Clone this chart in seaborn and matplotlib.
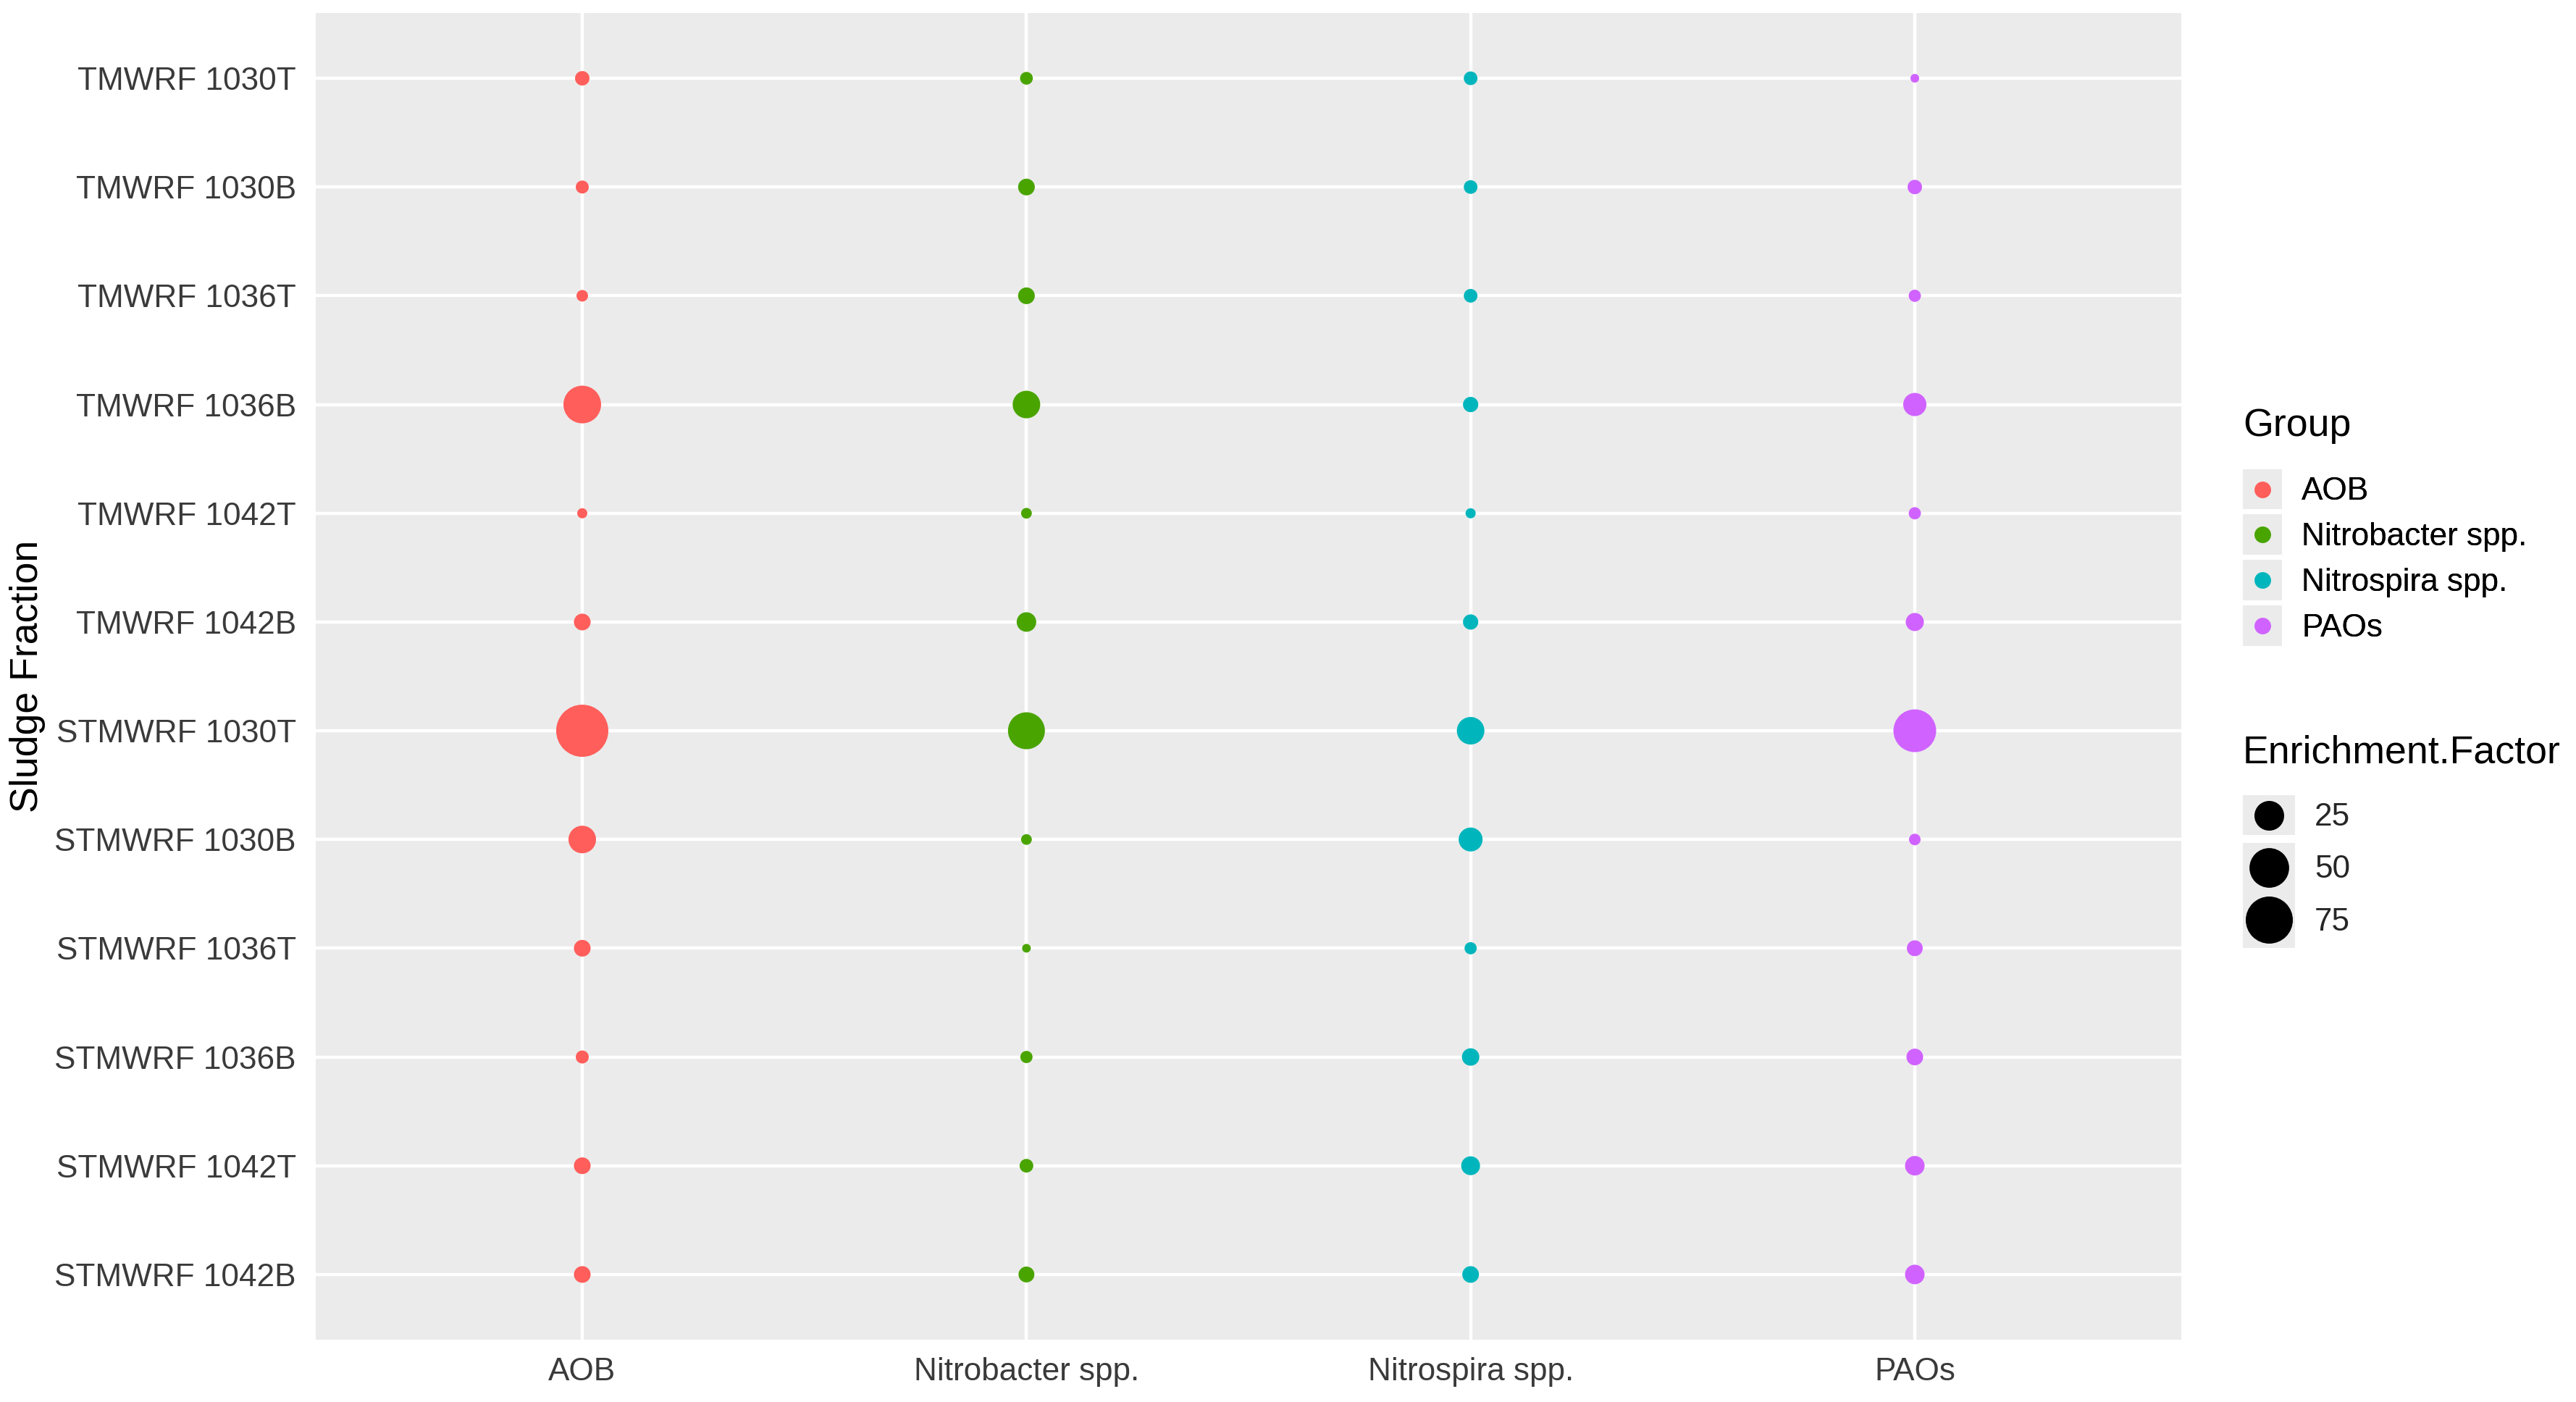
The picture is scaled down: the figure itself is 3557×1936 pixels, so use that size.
import numpy as np
import pandas as pd
import matplotlib
matplotlib.use("Agg")
import matplotlib.pyplot as plt
from matplotlib.colors import FuncNorm
from matplotlib.legend_handler import HandlerBase
from matplotlib.lines import Line2D
from matplotlib.patches import Rectangle
import seaborn as sns

# data
fractions = ["TMWRF 1030T", "TMWRF 1030B", "TMWRF 1036T", "TMWRF 1036B",
             "TMWRF 1042T", "TMWRF 1042B", "STMWRF 1030T", "STMWRF 1030B",
             "STMWRF 1036T", "STMWRF 1036B", "STMWRF 1042T", "STMWRF 1042B"]
groups = ["AOB", "Nitrobacter spp.", "Nitrospira spp.", "PAOs"]
aob = [5.2, 4.5, 4.0, 44.2, 3.7, 6.7, 95.0, 20.8, 6.7, 4.5, 6.7, 6.7]
nitrobacter = [4.4, 6.7, 6.7, 20.8, 3.8, 9.3, 42.2, 3.8, 3.6, 4.2, 4.8, 6.1]
nitrospira = [4.8, 4.8, 4.8, 5.7, 3.7, 5.7, 20.8, 14.8, 4.2, 7.3, 8.6, 6.7]
paos = [3.6, 5.2, 4.2, 13.8, 4.2, 7.9, 59.7, 4.0, 6.1, 6.7, 9.3, 9.3]
size_breaks = [25, 50, 75]
group_colors = ["#FF5E5B", "#49A400", "#00B6BC", "#D063FF"]

df = pd.DataFrame({
    "Sludge Fraction": fractions * len(groups),
    "Group": np.repeat(groups, len(fractions)),
    "Enrichment.Factor": aob + nitrobacter + nitrospira + paos,
})

# ggplot-like area scale: diameter 1..6 mm, sqrt of rescaled value
V_MIN = df["Enrichment.Factor"].min()
V_MAX = df["Enrichment.Factor"].max()
D_MIN, D_MAX = 2.88, 17.28  # points


def area(v):
    r = np.clip((np.asarray(v, dtype=float) - V_MIN) / (V_MAX - V_MIN), 0, 1)
    return (D_MIN + (D_MAX - D_MIN) * np.sqrt(r)) ** 2


def area_inv(a):
    d = np.sqrt(np.clip(np.asarray(a, dtype=float), 0, None))
    return V_MIN + (V_MAX - V_MIN) * ((d - D_MIN) / (D_MAX - D_MIN)) ** 2


size_norm = FuncNorm((area, area_inv), vmin=V_MIN, vmax=V_MAX)

sns.set_style("darkgrid", {"axes.facecolor": "#EBEBEB", "grid.color": "white"})
plt.rcParams["font.family"] = ["Liberation Sans", "DejaVu Sans"]

W, H, DPI = 3557, 1936, 300
fig = plt.figure(figsize=(W / DPI, H / DPI), dpi=DPI)
ax = fig.add_axes([436 / W, 1 - 1850 / H, (3012 - 436) / W, (1850 - 18) / H])

sns.scatterplot(data=df, x="Group", y="Sludge Fraction", hue="Group",
                palette=dict(zip(groups, group_colors)),
                size="Enrichment.Factor", sizes=(D_MIN ** 2, D_MAX ** 2),
                size_norm=size_norm, linewidth=0, alpha=1, legend=False, ax=ax)

ax.set_xlim(-0.6, len(groups) - 0.4)
ax.set_ylim(len(fractions) - 0.4, -0.6)
ax.grid(True, color="white", linewidth=1.06)
for s in ax.spines.values():
    s.set_visible(False)
ax.set_xlabel("")
ax.set_ylabel("")
ax.tick_params(axis="both", length=3.4, width=1.06, color="#333333",
               labelcolor="#3a3a3a", labelsize=10.6)
ax.tick_params(axis="x", pad=2.4)
ax.tick_params(axis="y", pad=3.1)

fig.text(38 / W, 1 - 934 / H, "Sludge Fraction", rotation=90,
         ha="center", va="center", fontsize=12.9, color="black")


class KeyHandler(HandlerBase):
    def __init__(self, min_h):
        super().__init__()
        self.min_h = min_h

    def create_artists(self, legend, orig_handle, xdescent, ydescent,
                       width, height, fontsize, trans):
        ms = orig_handle.get_markersize()
        h = max(self.min_h, ms + 3)
        cx = -xdescent + width / 2
        cy = -ydescent + height / 2
        rect = Rectangle((cx - width / 2, cy - h / 2), width, h,
                         facecolor="#EBEBEB", edgecolor="none", transform=trans)
        dot = Line2D([cx], [cy], marker="o", markersize=ms, linestyle="none",
                     markerfacecolor=orig_handle.get_markerfacecolor(),
                     markeredgewidth=0, transform=trans)
        return [rect, dot]


fs = 10.6
# Group legend
fig.text(3097 / W, 1 - 588 / H, "Group", ha="left", va="center",
         fontsize=12.9, color="black")
group_handles = [Line2D([], [], marker="o", markersize=5.5, linestyle="none",
                        markerfacecolor=c) for c in group_colors]
leg1 = fig.legend(group_handles, groups, loc="upper left",
                  bbox_to_anchor=(3097 / W, 1 - 652 / H), frameon=False,
                  fontsize=fs, handlelength=13.0 / fs, handleheight=13.4 / fs,
                  labelspacing=3.7 / fs, handletextpad=6.5 / fs,
                  borderpad=0, borderaxespad=0,
                  handler_map={Line2D: KeyHandler(13.4)})
for t in leg1.get_texts():
    t.set_color("black")

# size legend
fig.text(3097 / W, 1 - 1039 / H, "Enrichment.Factor", ha="left", va="center",
         fontsize=12.9, color="black")
size_handles = [Line2D([], [], marker="o", markersize=float(np.sqrt(area(b))),
                       linestyle="none", markerfacecolor="black")
                for b in size_breaks]
leg2 = fig.legend(size_handles, [str(b) for b in size_breaks], loc="upper left",
                  bbox_to_anchor=(3097 / W, 1 - 1099 / H), frameon=False,
                  fontsize=fs, handlelength=17.3 / fs, handleheight=15.6 / fs,
                  labelspacing=4.6 / fs, handletextpad=6.5 / fs,
                  borderpad=0, borderaxespad=0,
                  handler_map={Line2D: KeyHandler(13.4)})
fig.add_artist(leg1)

fig.savefig("out.png", dpi=DPI, facecolor="white")
